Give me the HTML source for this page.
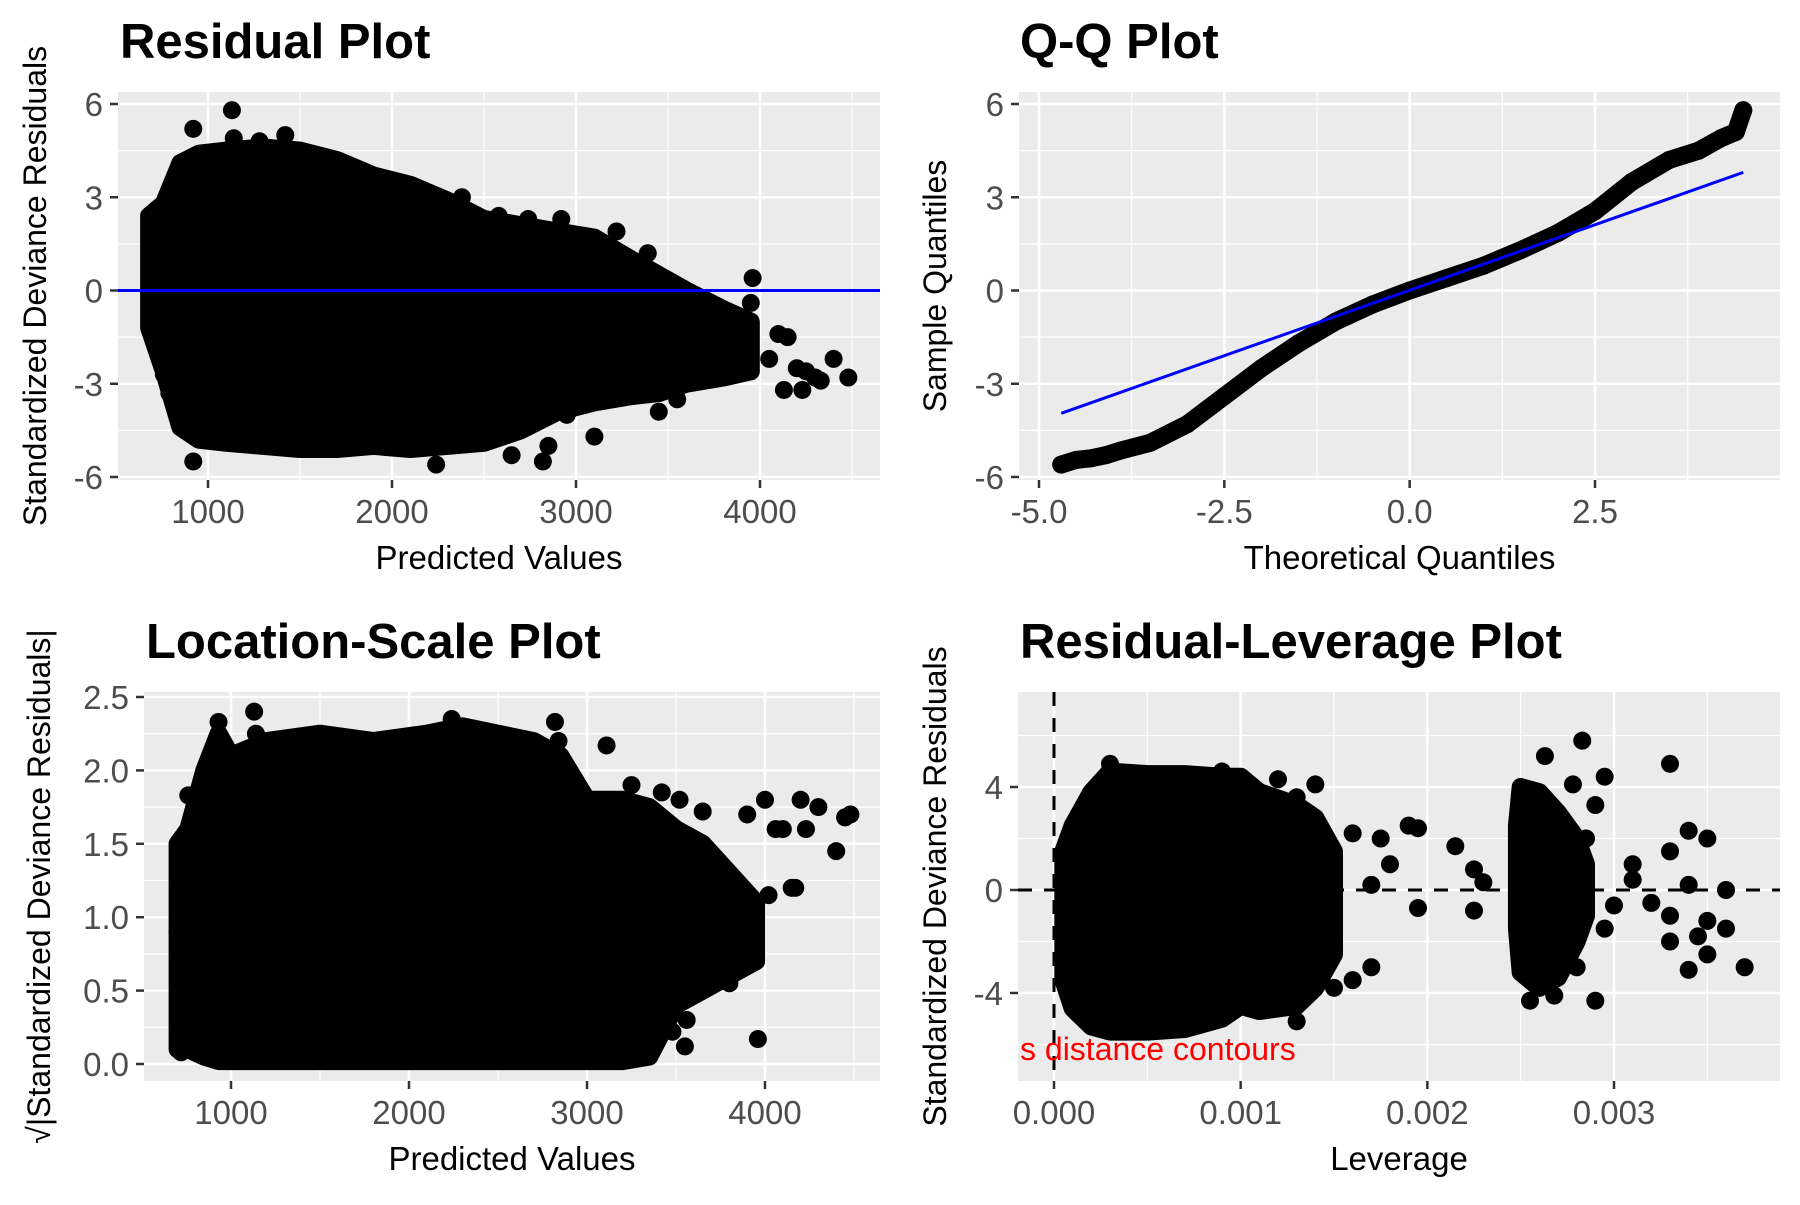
<!DOCTYPE html>
<html><head><meta charset="utf-8">
<style>
html,body{margin:0;padding:0;background:#fff;}
svg text{font-family:"Liberation Sans",Arial,sans-serif;}
</style></head>
<body>
<svg id="chart" width="1800" height="1200" viewBox="0 0 1800 1200" xmlns="http://www.w3.org/2000/svg"></svg>
<script>
// ---------- Data ----------
const resEnvX = [680,760,850,950,1100,1300,1500,1700,1900,2100,2300,2500,2700,2900,3100,3300,3450,3600,3800,3950];
const resEnvUp = [2.4,2.8,4.1,4.4,4.5,4.6,4.5,4.2,3.7,3.4,2.9,2.3,2.1,1.9,1.7,1.0,0.5,0.0,-0.6,-1.0];
const resEnvLo = [-1.2,-2.6,-4.4,-4.8,-4.9,-5.0,-5.1,-5.1,-5.0,-5.1,-5.0,-4.9,-4.5,-3.9,-3.6,-3.4,-3.3,-3.0,-2.8,-2.6];
const resOutX = [1130,920,1140,920,2240,3960,3950,4100,4150,4200,4300,4400,4480,4130,4230,4330,3100,2820,2780,760,790,700,3220,3390,3640,3800,3880,2380,2580,2740,2920,1420,1280,4050,4250,3550,3450,2950,2650,2850,740,760];
const resOutY = [5.8,5.2,4.9,-5.5,-5.6,0.4,-0.4,-1.4,-1.5,-2.5,-2.8,-2.2,-2.8,-3.2,-3.2,-2.9,-4.7,-5.5,-4.0,-2.7,-3.3,0.8,1.9,1.2,-2.2,-2.4,-1.4,3.0,2.4,2.3,2.3,5.0,4.8,-2.2,-2.6,-3.5,-3.9,-4.0,-5.3,-5.0,2.6,-1.8];
const qqTheo = [-4.7,-4.5,-4.3,-4.1,-3.9,-3.5,-3.0,-2.5,-2.0,-1.5,-1.0,-0.5,0.0,0.5,1.0,1.5,2.0,2.5,3.0,3.5,3.9,4.2,4.4,4.5];
const qqSample = [-5.6,-5.45,-5.4,-5.3,-5.15,-4.9,-4.3,-3.4,-2.5,-1.7,-1.0,-0.45,0.0,0.4,0.8,1.3,1.85,2.55,3.5,4.2,4.5,4.9,5.1,5.8];
const qqLineX = [-4.7,4.5];
const qqLineY = [-3.95,3.8];
const lsEnvX = [700,760,850,930,1000,1200,1500,1800,2100,2300,2500,2700,2850,3000,3200,3350,3500,3650,3800,3950];
const lsEnvUp = [1.5,1.6,2.0,2.25,2.1,2.2,2.25,2.2,2.25,2.3,2.25,2.2,2.1,1.8,1.8,1.75,1.6,1.5,1.3,1.1];
const lsEnvLo = [0.1,0.1,0.05,0.02,0.02,0.02,0.02,0.02,0.02,0.02,0.02,0.02,0.02,0.02,0.02,0.05,0.4,0.5,0.6,0.7];
const lsOutX = [1130,1140,930,2240,2820,2840,3110,3550,3960,4000,4100,4200,4300,4400,4480,4450,4150,3900,3650,3520,3250,2900,700,720,760,4020,4170,3420,3600,3750,3850,3700,3800,3560,3480,3900,4060,4230,3300,3200];
const lsOutY = [2.4,2.25,2.33,2.35,2.33,2.2,2.17,0.12,0.17,1.8,1.6,1.8,1.75,1.45,1.7,1.68,1.2,1.7,1.72,1.8,1.9,2.0,0.9,0.08,1.83,1.15,1.2,1.85,1.5,1.3,1.0,0.9,0.55,0.3,0.22,0.68,1.6,1.6,0.05,0.03];
const levEnvX = [0.00005,0.0001,0.0002,0.0003,0.0005,0.0007,0.0009,0.001,0.0011,0.0013,0.0014,0.0015];
const levEnvUp = [1.5,2.5,3.8,4.6,4.5,4.5,4.4,4.4,3.8,3.3,2.8,1.5];
const levEnvLo = [-3.5,-4.6,-5.3,-5.5,-5.5,-5.4,-5.0,-4.5,-4.7,-4.5,-3.8,-2.5];
const lev2EnvX = [0.00248,0.0025,0.0026,0.0027,0.0028,0.00285];
const lev2EnvUp = [2.5,4.0,3.8,3.0,2.0,1.0];
const lev2EnvLo = [-1.5,-3.2,-3.8,-3.4,-2.0,-1.0];
const levOutX = [0.00283,0.00263,0.0033,0.00295,0.00278,0.0034,0.0035,0.0019,0.00195,0.00175,0.00215,0.00225,0.0023,0.00225,0.00195,0.0018,0.0036,0.0037,0.0034,0.0035,0.0029,0.00255,0.00268,0.0033,0.0032,0.0031,0.0034,0.003,0.0031,0.0033,0.0036,0.0035,0.0016,0.0017,0.0013,0.0011,0.0014,0.0012,0.0009,0.0003,0.0016,0.0017,0.0033,0.00345,0.0029,0.00285,0.0028,0.00295,0.0015,0.0013];
const levOutY = [5.8,5.2,4.9,4.4,4.1,2.3,2.0,2.5,2.4,2.0,1.7,0.8,0.3,-0.8,-0.7,1.0,0.0,-3.0,-3.1,-2.5,-4.3,-4.3,-4.1,-1.0,-0.5,0.4,0.2,-0.6,1.0,1.5,-1.5,-1.2,-3.5,-3.0,-5.1,-4.5,4.1,4.3,4.6,4.9,2.2,0.2,-2.0,-1.8,3.3,2.0,-3.0,-1.5,-3.8,3.6];
const levTicks = ["0.000","0.001","0.002","0.003"];
const levTickVals = [0,0.001,0.002,0.003];

// ---------- Helpers ----------
const svg = document.getElementById('chart');
const NS = 'http://www.w3.org/2000/svg';
function mk(tag, attrs, parent){
  const e = document.createElementNS(NS, tag);
  for (const k in attrs) e.setAttribute(k, attrs[k]);
  (parent||svg).appendChild(e);
  return e;
}
function lin(d0,d1,r0,r1){ return v => r0 + (v-d0)/(d1-d0)*(r1-r0); }
const R = 9;

function panel(cfg){
  const g = mk('g', {});
  
  
  const bg = mk('rect', {x:cfg.l, y:cfg.t, width:cfg.r-cfg.l, height:cfg.b-cfg.t, fill:'#ebebeb'}, g);
  
  
  cfg.xminor.forEach(v=>{ const x=cfg.sx(v); mk('line',{x1:x,x2:x,y1:cfg.t,y2:cfg.b,stroke:'#fff','stroke-width':1.2},g); });
  cfg.yminor.forEach(v=>{ const y=cfg.sy(v); mk('line',{x1:cfg.l,x2:cfg.r,y1:y,y2:y,stroke:'#fff','stroke-width':1.2},g); });
  cfg.xticks.forEach((v,i)=>{
    const x=cfg.sx(v);
    mk('line',{x1:x,x2:x,y1:cfg.t,y2:cfg.b,stroke:'#fff','stroke-width':2.5},g);
    mk('line',{x1:x,x2:x,y1:cfg.b,y2:cfg.b+8,stroke:'#333','stroke-width':2.5},g);
    const tx = mk('text',{x:x,y:cfg.b+43,'text-anchor':'middle','font-size':33,fill:'#4d4d4d'},g);
    tx.textContent = cfg.xlabels[i];
    
    
  });
  cfg.yticks.forEach((v,i)=>{
    const y=cfg.sy(v);
    mk('line',{x1:cfg.l,x2:cfg.r,y1:y,y2:y,stroke:'#fff','stroke-width':2.5},g);
    mk('line',{x1:cfg.l-8,x2:cfg.l,y1:y,y2:y,stroke:'#333','stroke-width':2.5},g);
    const ty = mk('text',{x:cfg.l-15,y:y+12,'text-anchor':'end','font-size':33,fill:'#4d4d4d'},g);
    ty.textContent = cfg.ylabels[i];
    
    
  });
  const clipId = 'clip-'+cfg.name;
  const cp = mk('clipPath',{id:clipId},g);
  mk('rect',{x:cfg.l,y:cfg.t,width:cfg.r-cfg.l,height:cfg.b-cfg.t},cp);
  const plot = mk('g',{'clip-path':'url(#'+clipId+')'},g);
  const title = mk('text',{x:cfg.titleX,y:cfg.titleY,'font-size':49,'font-weight':'bold',fill:'#000'},g);
  title.textContent = cfg.title;
  
  
  const xt = mk('text',{x:(cfg.l+cfg.r)/2,y:cfg.b+89,'text-anchor':'middle','font-size':33,fill:'#000'},g);
  xt.textContent = cfg.xtitle;
  
  
  const yc = (cfg.t+cfg.b)/2;
  const yt = mk('text',{x:0,y:0,'text-anchor':'middle','font-size':32,fill:'#000',transform:'translate('+cfg.ytx+','+yc+') rotate(-90)'},g);
  yt.textContent = cfg.ytitle;
  
  
  return plot;
}
function envelope(plot, sx, sy, xs, up, lo){
  let d = '';
  xs.forEach((x,i)=>{ d += (i?'L':'M') + sx(x) + ',' + sy(up[i]) + ' '; });
  for (let i=xs.length-1;i>=0;i--) d += 'L' + sx(xs[i]) + ',' + sy(lo[i]) + ' ';
  d += 'Z';
  const p = mk('path',{d:d,fill:'#000',stroke:'#000','stroke-width':2*R,'stroke-linejoin':'round'},plot);
  
  
}
function points(plot, sx, sy, xs, ys){
  xs.forEach((x,i)=>{
    const c = mk('circle',{cx:sx(x),cy:sy(ys[i]),r:R,fill:'#000'},plot);
    
    
  });
}

// ---------- Panel 1 ----------
{
  const l=118,r=880,t=92,b=480;
  const sx = lin(1000,4000,208,760), sy = lin(6,-6,104,477);
  const plot = panel({name:'residual-plot',l,r,t,b,sx,sy,
    xticks:[1000,2000,3000,4000], xlabels:['1000','2000','3000','4000'], xminor:[500,1500,2500,3500,4500],
    yticks:[6,3,0,-3,-6], ylabels:['6','3','0','-3','-6'], yminor:[4.5,1.5,-1.5,-4.5],
    title:'Residual Plot', titleX:120, titleY:58, xtitle:'Predicted Values', ytitle:'Standardized Deviance Residuals', ytx:46});
  envelope(plot,sx,sy,resEnvX,resEnvUp,resEnvLo);
  points(plot,sx,sy,resOutX,resOutY);
  const hl = mk('line',{x1:l,x2:r,y1:sy(0),y2:sy(0),stroke:'#0000ff','stroke-width':3},plot);
  
  
}
// ---------- Panel 2 ----------
{
  const l=1019,r=1780,t=92,b=480;
  const sx = lin(-5,2.5,1039,1595), sy = lin(6,-6,104,477);
  const plot = panel({name:'qq-plot',l,r,t,b,sx,sy,
    xticks:[-5,-2.5,0,2.5], xlabels:['-5.0','-2.5','0.0','2.5'], xminor:[-3.75,-1.25,1.25,3.75],
    yticks:[6,3,0,-3,-6], ylabels:['6','3','0','-3','-6'], yminor:[4.5,1.5,-1.5,-4.5],
    title:'Q-Q Plot', titleX:1020, titleY:58, xtitle:'Theoretical Quantiles', ytitle:'Sample Quantiles', ytx:946});
  const pts = qqTheo.map((v,i)=>sx(v)+','+sy(qqSample[i])).join(' ');
  const pl = mk('polyline',{points:pts,fill:'none',stroke:'#000','stroke-width':2*R,'stroke-linecap':'round','stroke-linejoin':'round'},plot);
  
  
  points(plot,sx,sy,qqTheo,qqSample);
  const ql = mk('line',{x1:sx(qqLineX[0]),y1:sy(qqLineY[0]),x2:sx(qqLineX[1]),y2:sy(qqLineY[1]),stroke:'#0000ff','stroke-width':3},plot);
  
  
}
// ---------- Panel 3 ----------
{
  const l=144,r=880,t=692,b=1081;
  const sx = lin(1000,4000,231,765), sy = lin(2.5,0,697,1064);
  const plot = panel({name:'location-scale-plot',l,r,t,b,sx,sy,
    xticks:[1000,2000,3000,4000], xlabels:['1000','2000','3000','4000'], xminor:[500,1500,2500,3500,4500],
    yticks:[2.5,2,1.5,1,0.5,0], ylabels:['2.5','2.0','1.5','1.0','0.5','0.0'], yminor:[2.25,1.75,1.25,0.75,0.25],
    title:'Location-Scale Plot', titleX:146, titleY:658, xtitle:'Predicted Values', ytitle:'\u221A|Standardized Deviance Residuals|', ytx:50});
  envelope(plot,sx,sy,lsEnvX,lsEnvUp,lsEnvLo);
  points(plot,sx,sy,lsOutX,lsOutY);
}
// ---------- Panel 4 ----------
{
  const l=1018,r=1780,t=692,b=1081;
  const sx = lin(0,0.003,1054,1614), sy = lin(4,-4,787,993);
  const plot = panel({name:'residual-leverage-plot',l,r,t,b,sx,sy,
    xticks:levTickVals, xlabels:levTicks, xminor:[0.0005,0.0015,0.0025,0.0035],
    yticks:[4,0,-4], ylabels:['4','0','-4'], yminor:[6,2,-2,-6],
    title:'Residual-Leverage Plot', titleX:1020, titleY:658, xtitle:'Leverage', ytitle:'Standardized Deviance Residuals', ytx:946});
  envelope(plot,sx,sy,levEnvX,levEnvUp,levEnvLo);
  envelope(plot,sx,sy,lev2EnvX,lev2EnvUp,lev2EnvLo);
  points(plot,sx,sy,levOutX,levOutY);
  const hd = mk('line',{x1:l,x2:r,y1:sy(0),y2:sy(0),stroke:'#000','stroke-width':3,'stroke-dasharray':'14,12'},plot);
  
  
  const vd = mk('line',{x1:sx(0),x2:sx(0),y1:t,y2:b,stroke:'#000','stroke-width':3,'stroke-dasharray':'14,12'},plot);
  
  
  const ct = mk('text',{x:1020,y:1060,'font-size':32,fill:'#ff0000'},plot);
  ct.textContent = 's distance contours';
  
  
}
</script>
</body></html>
